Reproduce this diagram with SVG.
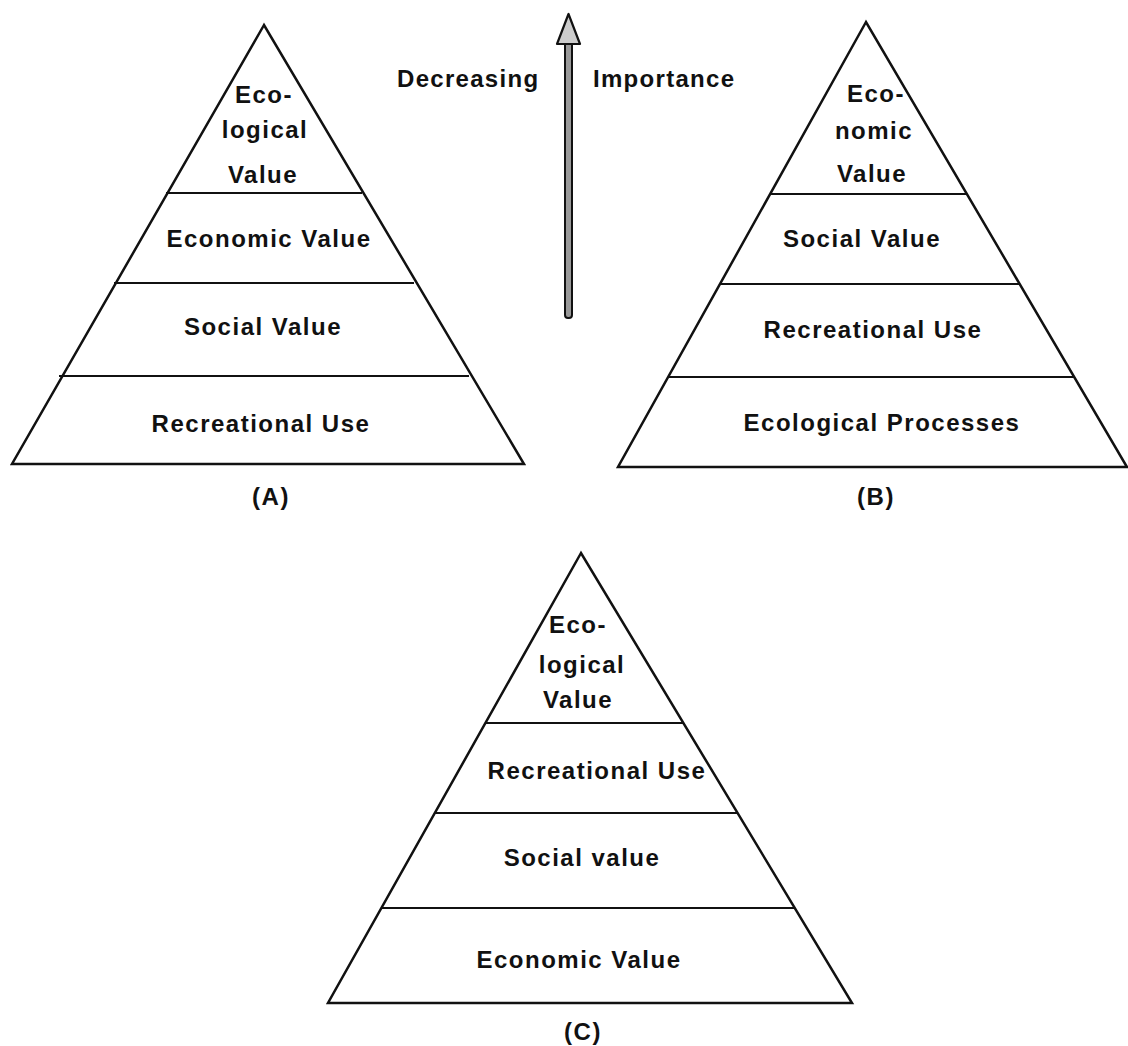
<svg xmlns="http://www.w3.org/2000/svg" width="1128" height="1046" viewBox="0 0 1128 1046">
<style>
.edge{fill:none;stroke:#111;stroke-width:2.5;stroke-linejoin:miter}
.div{stroke:#111;stroke-width:2.2}
.t{font-family:"Liberation Sans",Arial,sans-serif;font-weight:bold;font-size:24px;letter-spacing:1.5px;fill:#111;text-anchor:middle}
.ts{font-family:"Liberation Sans",Arial,sans-serif;font-weight:bold;font-size:24px;letter-spacing:1.3px;fill:#111}
</style>
<rect width="1128" height="1046" fill="#fff"/>
<g id="pyramidA">
<polygon class="edge" points="264,25 12,464 524,464"/>
<line class="div" x1="166" y1="193" x2="362" y2="193"/>
<line class="div" x1="114" y1="283" x2="414" y2="283"/>
<line class="div" x1="59" y1="376" x2="469" y2="376"/>
<text class="t" x="264" y="103">Eco-</text>
<text class="t" x="265" y="138">logical</text>
<text class="t" x="263" y="183">Value</text>
<text class="t" x="269" y="247">Economic Value</text>
<text class="t" x="263" y="335">Social Value</text>
<text class="t" x="261" y="432">Recreational Use</text>
<text class="t" x="271" y="505">(A)</text>
</g>
<g id="pyramidB">
<polygon class="edge" points="866,22 618,467 1127,467"/>
<line class="div" x1="770" y1="194" x2="967" y2="194"/>
<line class="div" x1="720" y1="284" x2="1020" y2="284"/>
<line class="div" x1="668" y1="377" x2="1074" y2="377"/>
<text class="t" x="876" y="102">Eco-</text>
<text class="t" x="874" y="139">nomic</text>
<text class="t" x="872" y="182">Value</text>
<text class="t" x="862" y="247">Social Value</text>
<text class="t" x="873" y="338">Recreational Use</text>
<text class="t" x="882" y="431">Ecological Processes</text>
<text class="t" x="876" y="505">(B)</text>
</g>
<g id="pyramidC">
<polygon class="edge" points="581,553 328,1003 852,1003"/>
<line class="div" x1="485" y1="723" x2="683" y2="723"/>
<line class="div" x1="435" y1="813" x2="738" y2="813"/>
<line class="div" x1="381" y1="908" x2="795" y2="908"/>
<text class="t" x="578" y="633">Eco-</text>
<text class="t" x="582" y="673">logical</text>
<text class="t" x="578" y="708">Value</text>
<text class="t" x="597" y="779">Recreational Use</text>
<text class="t" x="582" y="866">Social value</text>
<text class="t" x="579" y="968">Economic Value</text>
<text class="t" x="583" y="1040">(C)</text>
</g>
<g id="arrow">
<rect x="565" y="42" width="7" height="276" rx="3" fill="#999" stroke="#111" stroke-width="2"/>
<polygon points="568.5,14 557,44 580,44" fill="#ccc" stroke="#111" stroke-width="2.2" stroke-linejoin="round"/>
</g>
<g id="labels">
<text class="ts" x="397" y="87">Decreasing</text>
<text class="ts" x="593" y="87">Importance</text>
</g>
</svg>
